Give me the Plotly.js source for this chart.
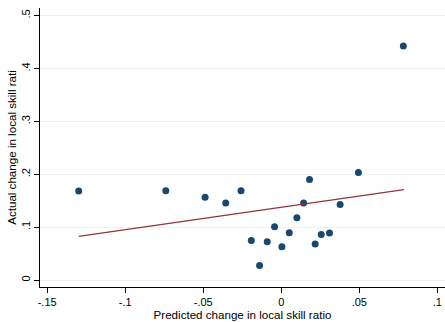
<!DOCTYPE html>
<html>
<head>
<meta charset="utf-8">
<script src="https://cdn.plot.ly/plotly-3.0.1.min.js"></script>
<style>
html,body{margin:0;padding:0;background:#fff;}
#chart{width:445px;height:322px;}
</style>
</head>
<body>
<div id="chart"></div>
<script>
// Scatter data (predicted vs actual change in local skill ratio)
var predicted = [-0.1298, -0.0740, -0.0488, -0.0356, -0.0258, -0.0192, -0.0139, -0.0090, -0.0043, 0.0004,
                 0.0051, 0.0100, 0.0143, 0.0181, 0.0217, 0.0256, 0.0309, 0.0377, 0.0494, 0.0782];
var actual = [0.1686, 0.1690, 0.1566, 0.1459, 0.1690, 0.0749, 0.0277, 0.0723, 0.1006, 0.0629,
              0.0893, 0.1176, 0.1459, 0.1900, 0.0679, 0.0862, 0.0887, 0.1428, 0.2032, 0.4428];
// Fitted line endpoints
var fitX = [-0.1298, 0.0786];
var fitY = [0.0824, 0.1711];
// Tick labels
var xTickVals = [-0.15, -0.1, -0.05, 0, 0.05, 0.1];
var xTickText = ["-.15", "-.1", "-.05", "0", ".05", ".1"];
var yTickVals = [0, 0.1, 0.2, 0.3, 0.4, 0.5];
var yTickText = ["0", ".1", ".2", ".3", ".4", ".5"];

var font = {family: "Liberation Sans, Arial, sans-serif", size: 11, color: "#000"};
var titleFont = {family: "Liberation Sans, Arial, sans-serif", size: 11.6, color: "#000"};

var traces = [
  {x: predicted, y: actual, type: "scatter", mode: "markers",
   marker: {color: "#1a476f", size: 7, line: {width: 0}}, hoverinfo: "x+y"},
  {x: fitX, y: fitY, type: "scatter", mode: "lines",
   line: {color: "#90353b", width: 1.2}}
];

var layout = {
  width: 445, height: 322,
  margin: {l: 40, r: 0, t: 8, b: 35, pad: 0},
  paper_bgcolor: "#fff", plot_bgcolor: "#fff",
  showlegend: false,
  font: font,
  xaxis: {
    range: [-0.1546, 0.1049],
    tickvals: xTickVals, ticktext: xTickText,
    ticks: "outside", ticklen: 5, tickcolor: "#000", tickwidth: 1,
    showline: true, linecolor: "#000", linewidth: 1,
    showgrid: false, zeroline: false,
    tickfont: font,
    title: {text: "Predicted change in local skill ratio", font: titleFont, standoff: 1}
  },
  yaxis: {
    range: [-0.0132, 0.5145],
    tickvals: yTickVals, ticktext: yTickText,
    tickangle: -90,
    ticks: "outside", ticklen: 5, tickcolor: "#000", tickwidth: 1,
    showline: true, linecolor: "#000", linewidth: 1,
    showgrid: true, gridcolor: "#eaf2f3", gridwidth: 1,
    zeroline: false,
    tickfont: font,
    title: {text: "Actual change in local skill rati", font: titleFont, standoff: 0}
  }
};

Plotly.newPlot("chart", traces, layout, {staticPlot: true, displayModeBar: false});
</script>
</body>
</html>
